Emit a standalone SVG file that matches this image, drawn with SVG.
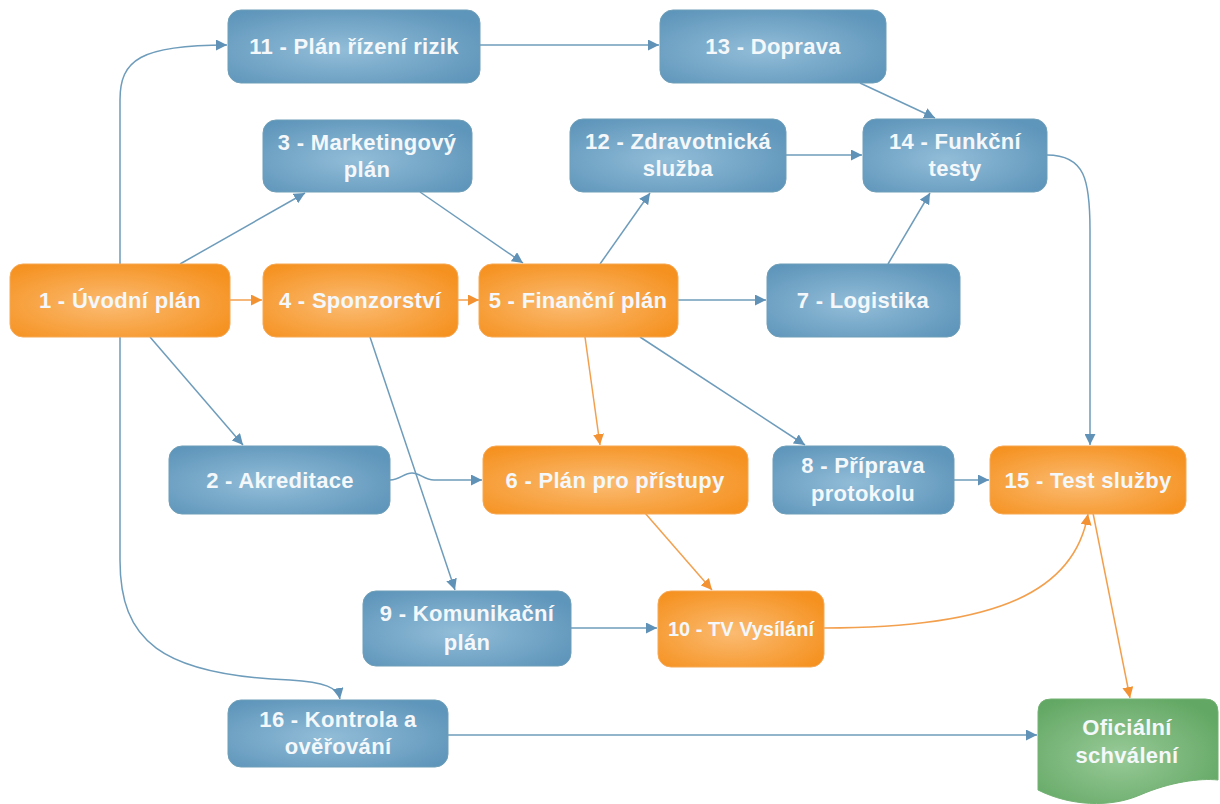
<svg xmlns="http://www.w3.org/2000/svg" width="1220" height="804" viewBox="0 0 1220 804">
<defs>
<radialGradient id="gb" cx="45%" cy="55%" r="65%">
<stop offset="0" stop-color="#92bdd8"/>
<stop offset="1" stop-color="#5e95ba"/>
</radialGradient>
<radialGradient id="go" cx="45%" cy="55%" r="65%">
<stop offset="0" stop-color="#fbbb72"/>
<stop offset="1" stop-color="#f5911f"/>
</radialGradient>
<radialGradient id="gg" cx="45%" cy="55%" r="65%">
<stop offset="0" stop-color="#98ca98"/>
<stop offset="1" stop-color="#62a763"/>
</radialGradient>
<marker id="ab" viewBox="0 0 10 10" refX="10" refY="5" markerWidth="11" markerHeight="11" markerUnits="userSpaceOnUse" orient="auto">
<path d="M0,0 L10,5 L0,10 Z" fill="#5f92b6"/>
</marker>
<marker id="ao" viewBox="0 0 10 10" refX="10" refY="5" markerWidth="11" markerHeight="11" markerUnits="userSpaceOnUse" orient="auto">
<path d="M0,0 L10,5 L0,10 Z" fill="#f39233"/>
</marker>
</defs>
<style>
.b{fill:url(#gb);stroke:#6f9fb8;stroke-width:1}
.o{fill:url(#go);stroke:#f6a855;stroke-width:1}
.g{fill:url(#gg);stroke:#74b174;stroke-width:1}
text{font-family:"Liberation Sans",Arial,sans-serif;font-weight:bold;font-size:22px;letter-spacing:0.3px;fill:#f4f8fb;text-anchor:middle}
.cb{fill:none;stroke:#6e9cbb;stroke-width:1.5;marker-end:url(#ab)}
.co{fill:none;stroke:#f3a04e;stroke-width:1.5;marker-end:url(#ao)}
</style>
<rect width="1220" height="804" fill="#ffffff"/>
<g id="connectors">
<path class="cb" d="M120,264 V100 C120,60 140,45 227,45"/>
<path class="cb" d="M180,264 L305,193"/>
<path class="co" d="M230,300 H262"/>
<path class="cb" d="M150,337 L243,445"/>
<path class="cb" d="M120,337 V560 C120,640 160,675 290,680 C325,682 338,688 340,699"/>
<path class="cb" d="M420,192 L523,263"/>
<path class="co" d="M458,300 H479"/>
<path class="cb" d="M370,337 L455,590"/>
<path class="cb" d="M390,480 C400,480 404,473 412,473 C420,473 424,480 434,480 H482"/>
<path class="cb" d="M600,264 L650,193"/>
<path class="cb" d="M678,300 H766"/>
<path class="co" d="M585,337 L600,445"/>
<path class="cb" d="M640,337 L805,445"/>
<path class="cb" d="M480,45 H659"/>
<path class="cb" d="M860,83 L935,118"/>
<path class="cb" d="M786,155 H862"/>
<path class="cb" d="M888,264 L930,193"/>
<path class="cb" d="M1047,155 C1085,155 1090,180 1090,230 V445"/>
<path class="co" d="M645,513 L712,590"/>
<path class="cb" d="M954,480 H989"/>
<path class="cb" d="M571,628 H657"/>
<path class="co" d="M824,628 C1000,628 1075,590 1088,514"/>
<path class="co" d="M1093,513 L1130,698"/>
<path class="cb" d="M448,735 H1037"/>
</g>
<g id="n11"><rect class="b" x="228" y="10" width="252" height="73" rx="13"/><text x="354" y="54">11 - Plán řízení rizik</text></g>
<g id="n13"><rect class="b" x="660" y="10" width="226" height="73" rx="13"/><text x="773" y="54">13 - Doprava</text></g>
<g id="n3"><rect class="b" x="263" y="120" width="209" height="72" rx="13"/><text x="367" y="150">3 - Marketingový</text><text x="367" y="177">plán</text></g>
<g id="n12"><rect class="b" x="570" y="119" width="216" height="73" rx="13"/><text x="678" y="149">12 - Zdravotnická</text><text x="678" y="176">služba</text></g>
<g id="n14"><rect class="b" x="863" y="119" width="184" height="73" rx="13"/><text x="955" y="149">14 - Funkční</text><text x="955" y="176">testy</text></g>
<g id="n1"><rect class="o" x="10" y="264" width="220" height="73" rx="13"/><text x="120" y="308">1 - Úvodní plán</text></g>
<g id="n4"><rect class="o" x="263" y="264" width="195" height="73" rx="13"/><text x="360" y="308">4 - Sponzorství</text></g>
<g id="n5"><rect class="o" x="479" y="264" width="199" height="73" rx="13"/><text x="578" y="308">5 - Finanční plán</text></g>
<g id="n7"><rect class="b" x="767" y="264" width="193" height="73" rx="13"/><text x="863" y="308">7 - Logistika</text></g>
<g id="n2"><rect class="b" x="169" y="446" width="221" height="68" rx="13"/><text x="280" y="488">2 - Akreditace</text></g>
<g id="n6"><rect class="o" x="483" y="446" width="265" height="68" rx="13"/><text x="615" y="488">6 - Plán pro přístupy</text></g>
<g id="n8"><rect class="b" x="773" y="446" width="181" height="68" rx="13"/><text x="863" y="473">8 - Příprava</text><text x="863" y="501">protokolu</text></g>
<g id="n15"><rect class="o" x="990" y="446" width="196" height="68" rx="13"/><text x="1088" y="488">15 - Test služby</text></g>
<g id="n9"><rect class="b" x="363" y="591" width="208" height="75" rx="13"/><text x="467" y="621">9 - Komunikační</text><text x="467" y="650">plán</text></g>
<g id="n10"><rect class="o" x="658" y="591" width="166" height="76" rx="13"/><text x="741" y="636" style="font-size:20px;letter-spacing:0">10 - TV Vysílání</text></g>
<g id="n16"><rect class="b" x="228" y="700" width="220" height="67" rx="13"/><text x="338" y="727">16 - Kontrola a</text><text x="338" y="754">ověřování</text></g>
<g id="nOff"><path class="g" d="M1051,699 H1205 Q1218,699 1218,712 V780 C1200,778 1170,782 1140,795 C1110,808 1070,806 1038,790 V712 Q1038,699 1051,699 Z"/><text x="1127" y="735">Oficiální</text><text x="1127" y="763">schválení</text></g>
</svg>
